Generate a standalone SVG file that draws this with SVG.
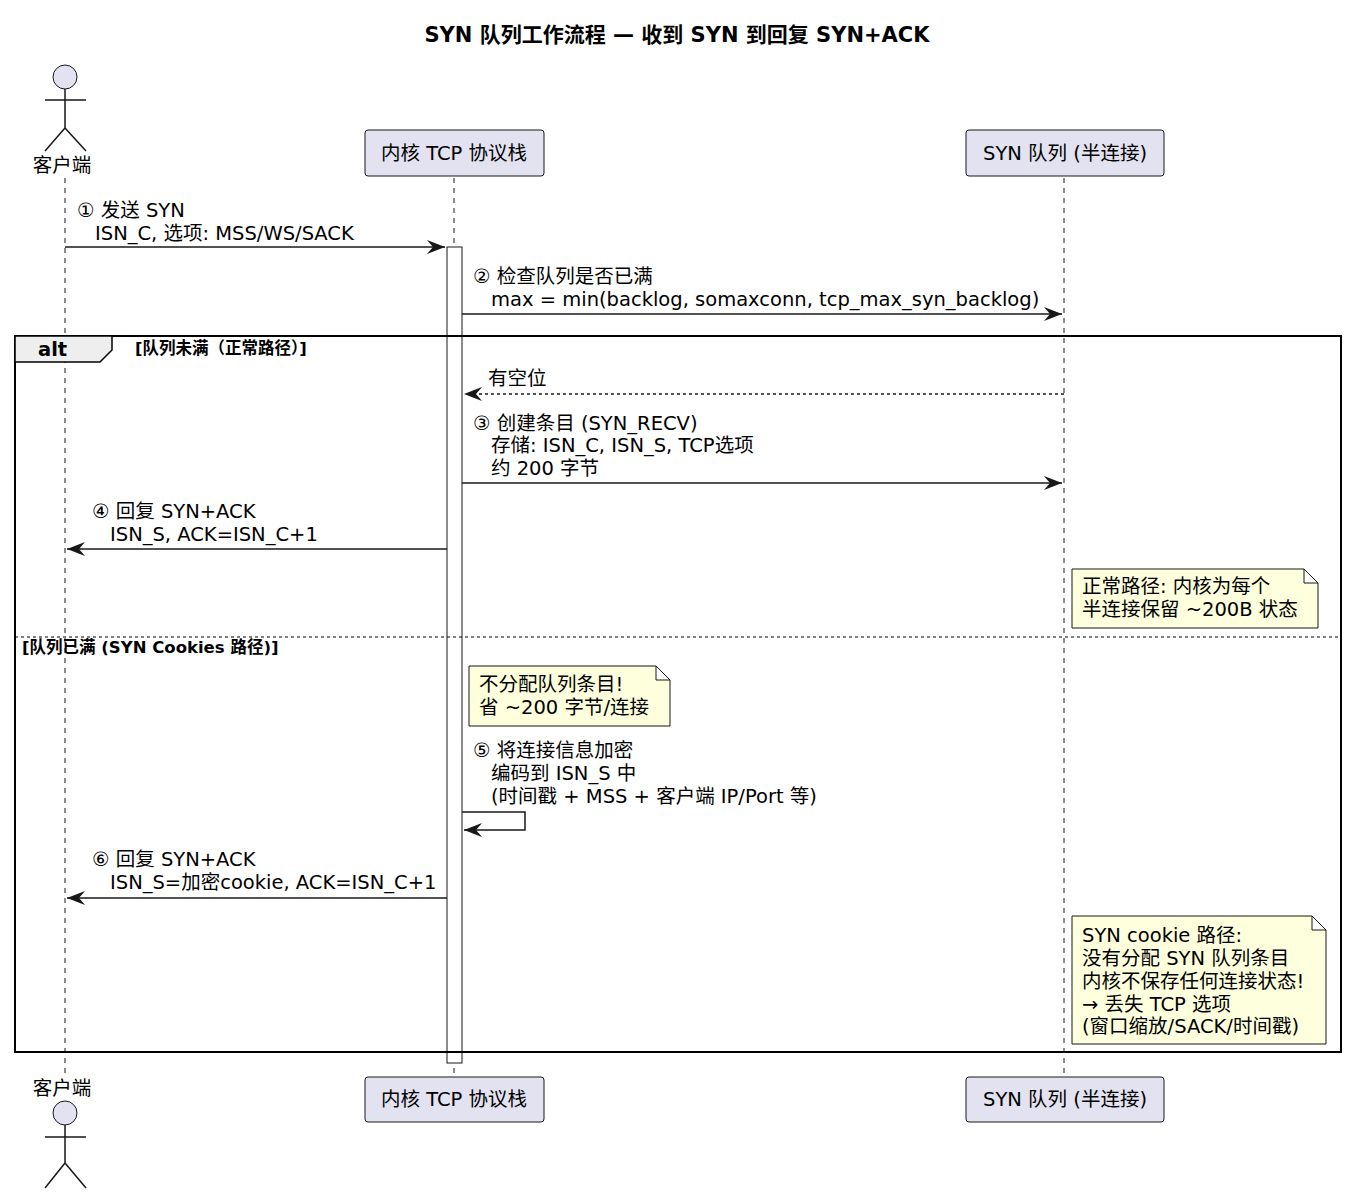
<svg xmlns="http://www.w3.org/2000/svg" width="1350" height="1197" viewBox="0 0 1350 1197">
<style>
text{font-family:"DejaVu Sans","Noto Sans CJK SC",sans-serif;font-size:19.5px;fill:#000}
.b{font-weight:bold}
.t{font-size:21px;font-weight:bold}
.g{font-size:16.5px;font-weight:bold}
.p{fill:#E2E2F0;stroke:#181818;stroke-width:1}
.n{fill:#FEFFDD;stroke:#181818;stroke-width:1}
.life{stroke:#181818;stroke-width:1;stroke-dasharray:5,5}
.m{stroke:#181818;stroke-width:1.5;fill:none}
.a{fill:none;stroke:#181818;stroke-width:1.5}
</style>
<defs>
<marker id="ah" markerWidth="20" markerHeight="14" refX="18" refY="7" orient="auto" markerUnits="userSpaceOnUse">
<path d="M0,0 L18,7 L0,14 L6,7 Z" fill="#181818"/>
</marker>
</defs>
<rect width="1350" height="1197" fill="#fff"/>
<text x="677" y="42" text-anchor="middle" class="t">SYN 队列工作流程 — 收到 SYN 到回复 SYN+ACK</text>
<g id="lifelines">
<line class="life" x1="65" y1="178" x2="65" y2="1077"/>
<line class="life" x1="454" y1="178" x2="454" y2="1077"/>
<line class="life" x1="1064" y1="178" x2="1064" y2="1077"/>
</g>
<g id="client">
<circle cx="65" cy="77" r="12" fill="#E2E2F0" stroke="#181818"/>
<path class="a" d="M65,89 V128 M45,100 H86 M65,128 L45,151 M65,128 L86,151"/>
<text x="62" y="172" text-anchor="middle">客户端</text>
</g>
<g id="client-bottom">
<text x="62" y="1095" text-anchor="middle">客户端</text>
<circle cx="65" cy="1113" r="12" fill="#E2E2F0" stroke="#181818"/>
<path class="a" d="M65,1125 V1163 M45,1137 H86 M65,1163 L45,1188 M65,1163 L86,1188"/>
</g>
<g id="kernel">
<rect class="p" x="365" y="130" width="179" height="46" rx="3"/>
<text x="454" y="160" text-anchor="middle">内核 TCP 协议栈</text>
</g>
<g id="kernel-bottom">
<rect class="p" x="365" y="1077" width="179" height="45" rx="3"/>
<text x="454" y="1106" text-anchor="middle">内核 TCP 协议栈</text>
</g>
<g id="synq">
<rect class="p" x="966" y="130" width="198" height="46" rx="3"/>
<text x="1065" y="160" text-anchor="middle">SYN 队列 (半连接)</text>
</g>
<g id="synq-bottom">
<rect class="p" x="966" y="1077" width="198" height="45" rx="3"/>
<text x="1065" y="1106" text-anchor="middle">SYN 队列 (半连接)</text>
</g>
<rect id="activation" x="447" y="247" width="15" height="816" fill="#fff" stroke="#181818"/>
<g id="alt">
<rect x="15" y="336" width="1326" height="716" fill="none" stroke="#000" stroke-width="2"/>
<path d="M15,336 H112 V350 L100,362 H15 Z" fill="#EEEEEE" stroke="#000" stroke-width="1.5"/>
<text x="38" y="356" class="b">alt</text>
<text x="135" y="354" class="g">[队列未满（正常路径）]</text>
<line x1="15" y1="637" x2="1341" y2="637" stroke="#000" stroke-dasharray="3,3"/>
<text x="22" y="653" class="g">[队列已满 (SYN Cookies 路径)]</text>
</g>
<g id="connectors">
<line class="m" x1="65" y1="247" x2="445" y2="247" marker-end="url(#ah)"/>
<text x="77" y="217">① 发送 SYN</text>
<text x="95" y="240">ISN_C, 选项: MSS/WS/SACK</text>
<line class="m" x1="462" y1="314" x2="1062" y2="314" marker-end="url(#ah)"/>
<text x="473" y="283">② 检查队列是否已满</text>
<text x="491" y="306">max = min(backlog, somaxconn, tcp_max_syn_backlog)</text>
<line class="m" x1="1064" y1="394" x2="464" y2="394" stroke-dasharray="3,3" marker-end="url(#ah)"/>
<text x="488" y="385">有空位</text>
<line class="m" x1="462" y1="483" x2="1062" y2="483" marker-end="url(#ah)"/>
<text x="473" y="430">③ 创建条目 (SYN_RECV)</text>
<text x="491" y="452">存储: ISN_C, ISN_S, TCP选项</text>
<text x="491" y="475">约 200 字节</text>
<line class="m" x1="447" y1="549" x2="67" y2="549" marker-end="url(#ah)"/>
<text x="92" y="518">④ 回复 SYN+ACK</text>
<text x="110" y="541">ISN_S, ACK=ISN_C+1</text>
<polyline class="m" points="462,812 525,812 525,830 464,830" marker-end="url(#ah)"/>
<text x="473" y="757">⑤ 将连接信息加密</text>
<text x="491" y="780">编码到 ISN_S 中</text>
<text x="491" y="803">(时间戳 + MSS + 客户端 IP/Port 等)</text>
<line class="m" x1="447" y1="898" x2="67" y2="898" marker-end="url(#ah)"/>
<text x="92" y="866">⑥ 回复 SYN+ACK</text>
<text x="110" y="889">ISN_S=加密cookie, ACK=ISN_C+1</text>
</g>
<g id="note1">
<path class="n" d="M1072,569 H1304 L1318,583 V628 H1072 Z M1304,569 V583 H1318"/>
<text x="1082" y="593">正常路径: 内核为每个</text>
<text x="1082" y="616">半连接保留 ~200B 状态</text>
</g>
<g id="note2">
<path class="n" d="M469,666 H656 L670,680 V726 H469 Z M656,666 V680 H670"/>
<text x="479" y="691">不分配队列条目!</text>
<text x="479" y="714">省 ~200 字节/连接</text>
</g>
<g id="note3">
<path class="n" d="M1072,916 H1312 L1326,930 V1044 H1072 Z M1312,916 V930 H1326"/>
<text x="1082" y="942">SYN cookie 路径:</text>
<text x="1082" y="965">没有分配 SYN 队列条目</text>
<text x="1082" y="988">内核不保存任何连接状态!</text>
<text x="1082" y="1011">→ 丢失 TCP 选项</text>
<text x="1082" y="1033">(窗口缩放/SACK/时间戳)</text>
</g>
</svg>
